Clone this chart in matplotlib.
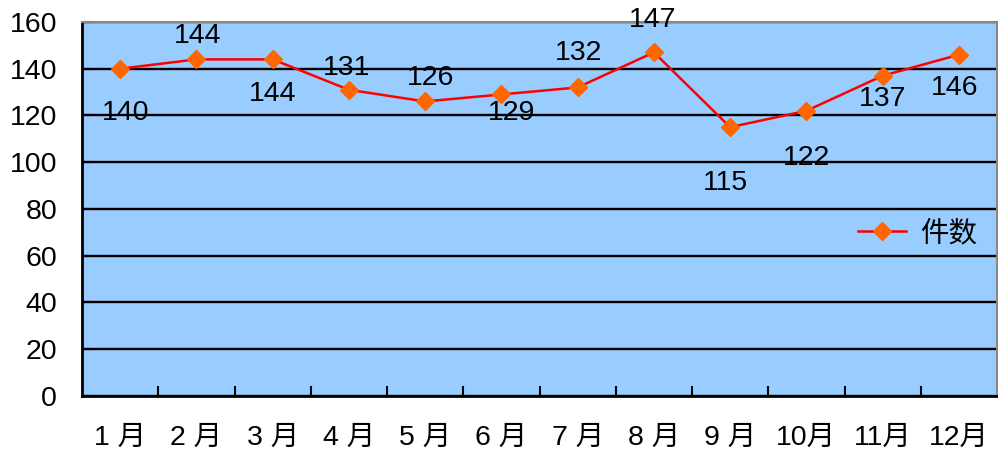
import numpy as np
import matplotlib.pyplot as plt

plt.rcParams['font.family'] = ['Liberation Sans', 'Noto Sans CJK SC', 'DejaVu Sans']

# Data
months = ["1 月", "2 月", "3 月", "4 月", "5 月", "6 月", "7 月", "8 月", "9 月", "10月", "11月", "12月"]
counts = [140, 144, 144, 131, 126, 129, 132, 147, 115, 122, 137, 146]
series_name = "件数"

# label offsets (points) for the value labels
label_dx = [4, 1, 0, -2, 4, 7, 1, -1, -3, 0, 0, -3]
label_dy = [-32, 17, -25, 16, 17, -13, 25, 23, -40, -34, -17, -24]

fig = plt.figure(figsize=(9.98, 4.57), dpi=100)
ax = fig.add_axes([0.0822, 0.1335, 0.9168, 0.8184])
ax.set_facecolor("#99CCFF")

x = np.arange(len(months))
ax.plot(x, counts, color="red", lw=1.8, marker="D", markersize=9.5,
        markerfacecolor="#FF6600", markeredgecolor="#FF6600", label=series_name, zorder=3)

for i, v in enumerate(counts):
    ax.annotate(str(v), (x[i], v), xytext=(label_dx[i], label_dy[i]),
                textcoords="offset points", ha="center", va="center", fontsize=20.5)

ax.set_xlim(-0.5, len(months) - 0.5)
ax.set_ylim(0, 160)
ax.set_yticks(np.arange(0, 161, 20))
ax.yaxis.grid(True, color="black", lw=1.7)
ax.set_axisbelow(True)

ax.set_xticks(x)
ax.set_xticklabels(months, fontsize=20.5)
ax.set_xticks(np.arange(0.5, len(months) - 1, 1), minor=True)
ax.tick_params(axis="x", which="major", length=0, pad=21)
ax.tick_params(axis="x", which="minor", direction="in", length=7, width=1.5)
ax.tick_params(axis="y", direction="in", length=7, width=1.5, labelsize=20.5, pad=18)

for s in ["left", "bottom"]:
    ax.spines[s].set_color("black")
    ax.spines[s].set_linewidth(2)
for s in ["top", "right"]:
    ax.spines[s].set_color("#888888")
    ax.spines[s].set_linewidth(1.5)

ax.legend(loc="center left", bbox_to_anchor=(0.848, 0.433), frameon=False,
          fontsize=20.5, handlelength=1.7, handletextpad=0.5,
          borderpad=0, borderaxespad=0)

fig.savefig("out.png", dpi=100)
